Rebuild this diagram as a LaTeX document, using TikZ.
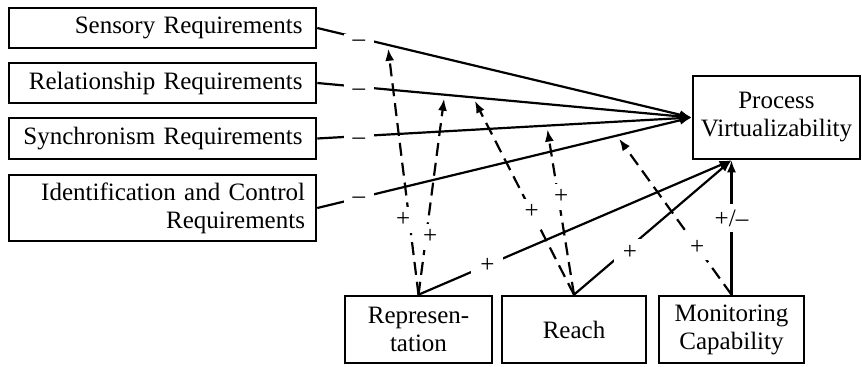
\documentclass[tikz,border=0pt]{standalone}
\usepackage{fontspec}
\setmainfont{Liberation Serif}
\usetikzlibrary{arrows.meta}
\tikzstyle{req} = [draw, line width=1.3pt, text width=140pt, align=right, inner xsep=6.75pt, inner ysep=0pt]
\tikzstyle{box} = [draw, line width=1.3pt, align=center, inner sep=0pt]
\tikzset{
  line/.style ={draw, line width=1.1pt, -{Latex[length=6pt, width=4.5pt]}, shorten >=0pt},
  dline/.style ={line, dash pattern=on 6.5pt off 3.5pt, shorten >=2pt},
  sign/.style ={fill=white, inner xsep=4.5pt, inner ysep=3pt}
}

\begin{document}
\begin{tikzpicture}[x=0.5pt, y=-0.5pt, every node/.style={font=\fontsize{12.5}{14}\selectfont}]
  \useasboundingbox (0,0) rectangle (862,367);
  \node[req, minimum height=20pt] (sens) at (162.5,28) {Sensory Requirements};
  \node[req, minimum height=20pt] (rel) at (162.5,83) {Relationship Requirements};
  \node[req, minimum height=20.5pt] (sync) at (162.5,138.5) {Synchronism Requirements};
  \node[req, minimum height=33pt, text width=142.5pt, inner xsep=5.5pt] (ident) at (162.5,208) {Identification and Control\\Requirements};
  \node[box, minimum width=83.5pt, minimum height=41.5pt] (pv) at (776.5,117.5) {Process\\Virtualizability};
  \node[box, minimum width=73.5pt, minimum height=33.5pt] (rep) at (418.5,329.5) {Represen-\\tation};
  \node[box, minimum width=72pt, minimum height=33.5pt] (reach) at (574,329.5) {Reach};
  \node[box, minimum width=72.5pt, minimum height=33.5pt] (mon) at (731.5,329.5) {Monitoring\\Capability};
  \coordinate (pvb) at (mon.north |- pv.south);

  \begin{scope}[every path/.style=line]
    \path (sens.east) -- node[sign, pos=.111, yshift=-2.5pt] {--} coordinate[pos=.188] (sensT) (pv.west);
    \path (rel.east) -- node[sign, pos=.111, yshift=-2.5pt] {--} coordinate[pos=.34] (relA) coordinate[pos=.416] (relB) (pv.west);
    \path (sync.east) -- node[sign, pos=.111, yshift=-2.5pt] {--} coordinate[pos=.613] (syncT) (pv.west);
    \path (ident.east) -- node[sign, pos=.111, yshift=-1pt] {--} coordinate[pos=.8] (identT) (pv.west);
  \end{scope}

  \begin{scope}[every path/.style=dline]
    \path (rep.north) -- node[sign, pos=.3, xshift=-3pt] {+} (sensT);
    \path (rep.north) -- node[sign, pos=.29, xshift=2pt] {+} (relA);
    \path (reach.north) -- node[sign, pos=.42] {+} (relB);
    \path (reach.north) -- node[sign, pos=.58, xshift=1.5pt] {+} (syncT);
    \path (mon.north) -- node[sign, pos=.3] {+} (identT);
  \end{scope}

  \begin{scope}[every path/.style=line]
    \path (rep.north) -- node[sign, pos=.22] {+} (pvb);
    \path (reach.north) -- node[sign, pos=.355, yshift=-2.5pt] {+} (pvb);
    \path (mon.north) -- node[sign, pos=.57] {+/--} (pvb);
  \end{scope}
\end{tikzpicture}
\end{document}
